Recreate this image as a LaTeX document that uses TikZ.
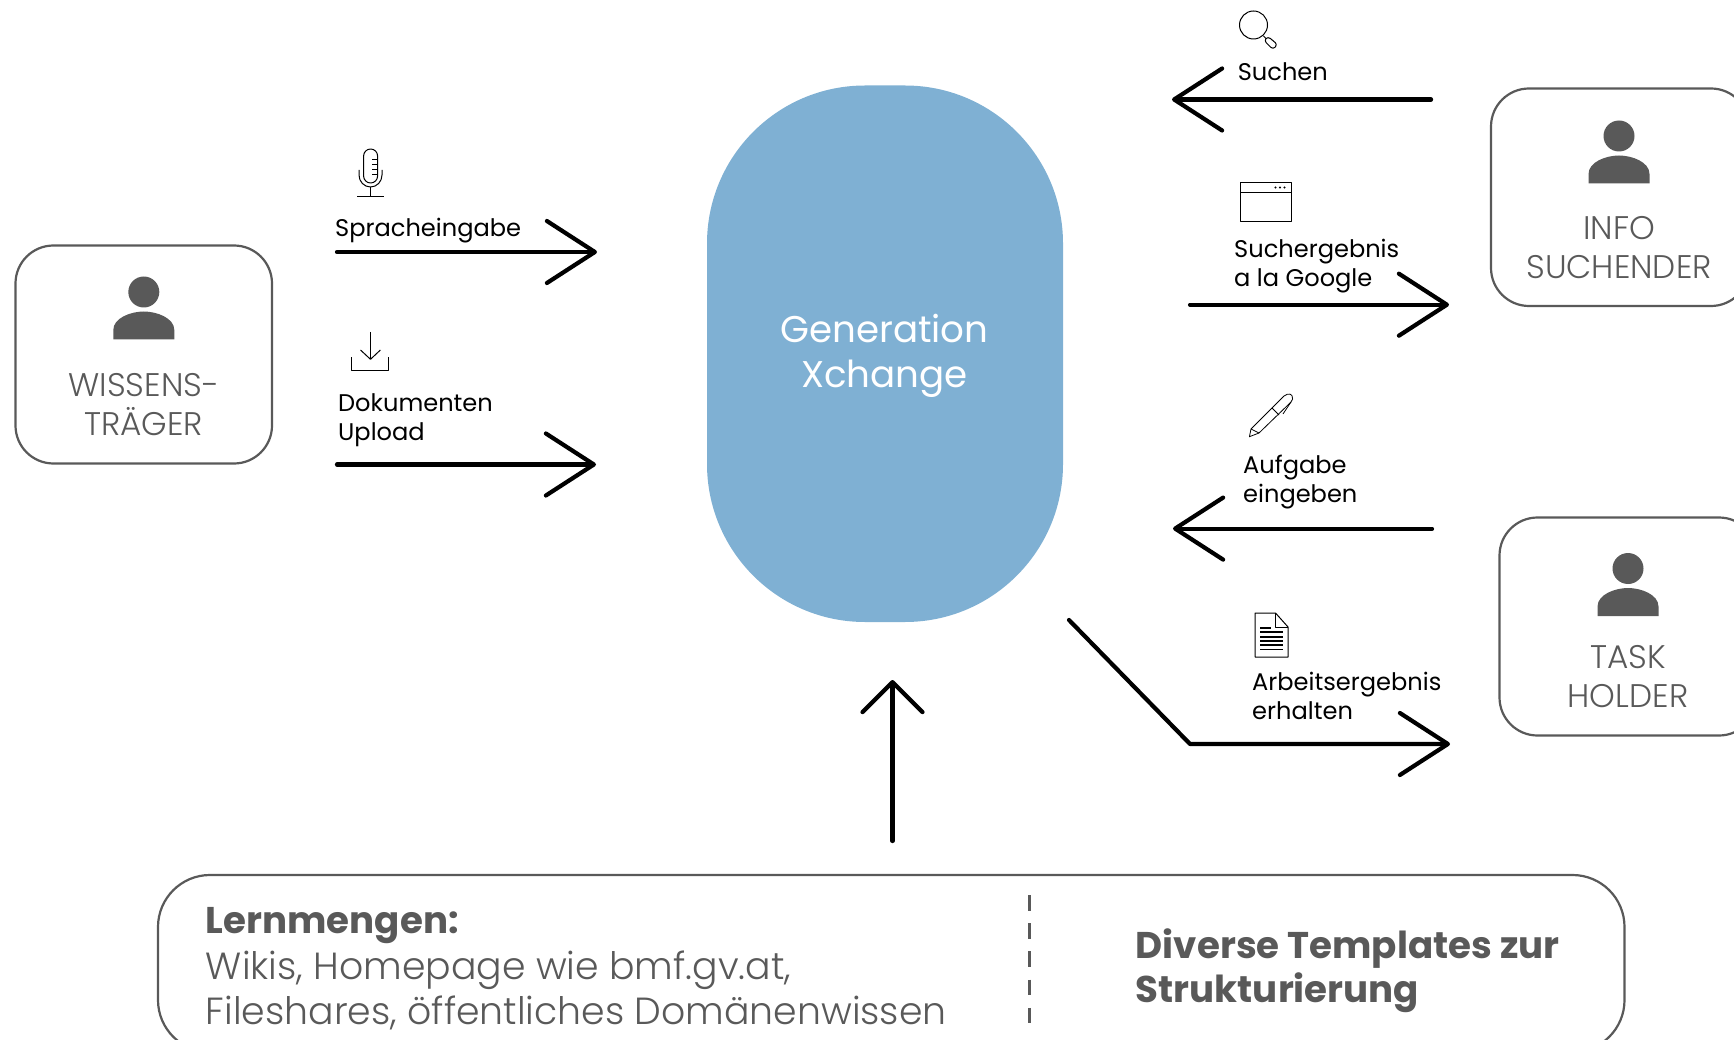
\documentclass[tikz,border=0pt]{standalone}
\usepackage{fontspec}
\setmainfont{Poppins}
\newfontfamily\plight{Poppins Light}
\newfontfamily\pbold{Poppins Bold}
\usetikzlibrary{arrows.meta}
\definecolor{grayd}{HTML}{595959}
\definecolor{blobblue}{HTML}{7FB0D3}
\tikzset{
  x=1pt,y=-1pt,
  flow/.style={line width=4.2pt,line cap=round,line join=round,-{Straight Barb[round,length=48pt,width=62pt,line width=4.2pt]}},
  role/.style={draw=grayd,line width=2.2pt,rounded corners=38pt},
  rolelabel/.style={text=grayd,font=\plight\fontsize{32.7}{39}\selectfont,align=center,inner sep=0pt,anchor=base},
  lab/.style={text=black,font=\fontsize{24.1}{29}\selectfont,align=left,inner sep=0pt,anchor=base west},
  lern/.style={text=grayd,font=\plight\fontsize{37.8}{45}\selectfont,align=left,inner sep=0pt,anchor=base west},
  lernb/.style={text=grayd,font=\pbold\fontsize{37.2}{44}\selectfont,align=left,inner sep=0pt,anchor=base west},
  icon/.style={draw=black,line width=1pt,line join=round},
  person/.pic={
    \fill[grayd] (0,0) circle[radius=15.5];
    \fill[grayd] (-30.5,47.5) -- (-30.5,38) .. controls (-30.5,26) and (-13,19.5) .. (0,19.5) .. controls (13,19.5) and (30.5,26) .. (30.5,38) -- (30.5,47.5) -- cycle;
  }
}
\begin{document}
\begin{tikzpicture}
\useasboundingbox (0,0) rectangle (1734,1040);
\begin{scope}
\clip (0,0) rectangle (1734,1040);
% central shape
\fill[blobblue,rounded corners=158pt] (707,85.5) rectangle (1063,622);
\node[text=white,font=\fontsize{37.2}{45}\selectfont,align=center,inner sep=0pt,anchor=base] (gx) at (884.5,387.5) {Generation\\Xchange};
% role boxes
\draw[role] (15.5,245.5) rectangle (272,463.5);
\draw[role] (1491,88.5) rectangle (1749,306);
\draw[role] (1499.5,517.5) rectangle (1757,735.5);
\draw[draw=grayd,line width=2.2pt,rounded corners=52pt] (158,875) rectangle (1624.5,1052);
\coordinate (bwiss) at (143.8,292);
\pic at (bwiss) {person};
\pic at (1619,136) {person};
\pic at (1628,568.5) {person};
\node[rolelabel] (wiss) at (143.8,435) {WISSENS-\\TRÄGER};
\node[rolelabel] (info) at (1619,278.2) {INFO\\SUCHENDER};
\node[rolelabel] (task) at (1628,707.3) {TASK\\HOLDER};
% bottom box
\node[lernb] (lm) at (205.7,933.5) {Lernmengen:};
\node[lern] (wk) at (205.7,1024) {Wikis, Homepage wie bmf.gv.at,\\Fileshares, öffentliches Domänenwissen};
\node[lernb] (dt) at (1135.7,1002) {Diverse Templates zur\\Strukturierung};
\coordinate (dashA) at (1029.6,895);
\coordinate (dashB) at (1029.6,1023);
\draw[grayd,line width=3.5pt,dash pattern=on 15.5pt off 12.7pt] (dashA) -- (dashB);
% arrows
\coordinate (a1s) at (337,252); \coordinate (a1e) at (597,252);
\coordinate (a2s) at (337,464.5); \coordinate (a2e) at (596,464.5);
\coordinate (a3s) at (1431,99.5); \coordinate (a3e) at (1172,99.5);
\coordinate (a4s) at (1190,304.7); \coordinate (a4e) at (1449,304.7);
\coordinate (a5s) at (1432,528.6); \coordinate (a5e) at (1173,528.6);
\coordinate (a6s) at (1069,620); \coordinate (a6m) at (1190,744); \coordinate (a6e) at (1450,744);
\coordinate (a7s) at (892.5,841); \coordinate (a7e) at (892.5,680);
\draw[flow] (a1s) -- (a1e);
\draw[flow] (a2s) -- (a2e);
\draw[flow] (a3s) -- (a3e);
\draw[flow] (a4s) -- (a4e);
\draw[flow] (a5s) -- (a5e);
\draw[flow] (a6s) -- (a6m) -- (a6e);
\draw[flow,-{Straight Barb[round,length=30pt,width=60pt,line width=4.2pt]}] (a7s) -- (a7e);
% labels
\node[lab] (l1) at (335,236.5) {Spracheingabe};
\node[lab] (l2) at (338,440) {Dokumenten\\Upload};
\node[lab] (l3) at (1237.6,80.5) {Suchen};
\node[lab] (l4) at (1234,286.5) {Suchergebnis\\a la Google};
\node[lab] (l5) at (1243,502.5) {Aufgabe\\eingeben};
\node[lab] (l6) at (1252,719.5) {Arbeitsergebnis\\erhalten};
% icons: search
\draw[icon] (1253.5,25) circle[radius=14];
\draw[icon] (1263.5,36) -- (1266,38.5);
\draw[icon,rounded corners=3pt] (1264,40.5) -- (1268,36.5) -- (1277.5,44.5) -- (1273,49.5) -- cycle;
% icons: window
\draw[icon] (1240.5,182.7) rectangle (1291,221.5);
\draw[icon] (1240.5,193) -- (1291,193);
\fill (1275.5,187.5) circle[radius=1.1] (1280,187.5) circle[radius=1.1] (1284.5,187.5) circle[radius=1.1];
% icons: pen
\draw[icon,line width=.8pt] (1249.4,436.7) -- (1251,429) -- (1284,396) .. controls (1288,393) and (1293,393) .. (1292.6,399) -- (1291,402) -- (1259,433) -- cycle;
\draw[icon,line width=.8pt] (1272,408) -- (1279,415);
\draw[icon,line width=.8pt] (1251,429) -- (1259,433);
\draw[icon,line width=.8pt] (1291,402) -- (1283,414);
% icons: document
\draw[icon] (1255,613) -- (1275.5,613) -- (1288,627) -- (1288,657) -- (1255,657) -- cycle;
\draw[icon] (1275.5,613) -- (1275.5,627) -- (1288,627);
\foreach \yy in {631.7,636.7,641,645,649.3}{\draw[line width=1.6pt] (1260,\yy) -- (1283,\yy);}
\draw[line width=1.6pt] (1260,627.7) -- (1271,627.7);
% icons: microphone
\draw[icon] (363.6,156) arc[start angle=180,end angle=360,radius=7] -- (377.6,176) arc[start angle=0,end angle=180,radius=7] -- cycle;
\draw[icon] (359,170) -- (359,175) arc[start angle=180,end angle=0,x radius=11.5,y radius=12] -- (382,170);
\draw[icon] (370.5,187) -- (370.5,197);
\draw[icon] (357,197) -- (384,197);
\foreach \yy in {160,165,170,175}{\draw[icon] (372,\yy) -- (377.6,\yy);}
% icons: download
\draw[icon] (370.5,332) -- (370.5,359.3);
\draw[icon] (360.5,350) -- (370.5,359.3) -- (380.4,350);
\draw[icon] (351.3,357.3) -- (351.3,370) -- (388.8,370) -- (388.8,357.3);
\end{scope}
\end{tikzpicture}
\end{document}
